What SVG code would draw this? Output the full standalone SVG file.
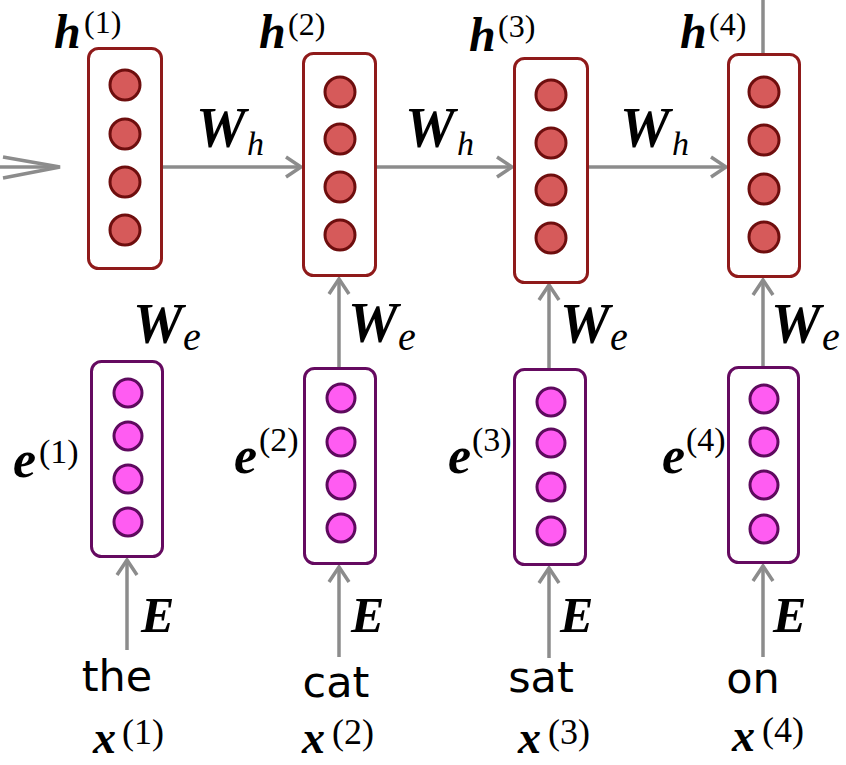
<svg xmlns="http://www.w3.org/2000/svg" width="846" height="765" viewBox="0 0 846 765">
<style>
.hbox{fill:#fff;stroke:#8f1a1a;stroke-width:3}
.hc{fill:#d65a5a;stroke:#6e0e0e;stroke-width:3}
.ebox{fill:#fff;stroke:#650a60;stroke-width:3}
.ec{fill:#ff5cf2;stroke:#5e0a5e;stroke-width:3}
.arr{fill:none;stroke:#8c8c8c;stroke-width:3.5}
.m{font-family:"Liberation Serif","Times New Roman",serif;font-weight:bold;font-style:italic;fill:#000}
.sup{font-family:"Liberation Serif","Times New Roman",serif;font-weight:normal;font-style:normal;fill:#000}
.sub{font-family:"Liberation Serif","Times New Roman",serif;font-weight:normal;font-style:italic;fill:#000}
.w{font-family:"DejaVu Sans","Noto Sans",sans-serif;font-size:43px;fill:#000;text-anchor:middle}
</style>
<defs>
<marker id="ah" markerUnits="userSpaceOnUse" viewBox="-18 -12 20 24" markerWidth="20" markerHeight="24" refX="0" refY="0" orient="auto" overflow="visible">
<path d="M-15,-10 L0,0 L-15,10" fill="none" stroke="#8c8c8c" stroke-width="3.5"/>
</marker>
</defs>
<g id="connectors">
<path class="arr" d="M0,167 H56"/>
<path class="arr" d="M3,157 L60,167 L3,178"/>
<path class="arr" d="M163,167 H301" marker-end="url(#ah)"/>
<path class="arr" d="M377,167 H512" marker-end="url(#ah)"/>
<path class="arr" d="M589,167 H726" marker-end="url(#ah)"/>
<path class="arr" d="M763,0 V53"/>
<path class="arr" d="M339,367 V279" marker-end="url(#ah)"/>
<path class="arr" d="M549,368 V285" marker-end="url(#ah)"/>
<path class="arr" d="M763,366 V280" marker-end="url(#ah)"/>
<path class="arr" d="M127,650 V560" marker-end="url(#ah)"/>
<path class="arr" d="M339,657 V567" marker-end="url(#ah)"/>
<path class="arr" d="M549,658 V568" marker-end="url(#ah)"/>
<path class="arr" d="M763,657 V566" marker-end="url(#ah)"/>
</g>
<g id="h1">
<rect class="hbox" x="88.5" y="48.5" width="73" height="220" rx="10"/>
<circle class="hc" cx="125" cy="85" r="15"/><circle class="hc" cx="125" cy="134" r="15"/><circle class="hc" cx="125" cy="182" r="15"/><circle class="hc" cx="125" cy="230" r="15"/>
</g>
<g id="h2">
<rect class="hbox" x="303.5" y="53.5" width="72" height="222" rx="10"/>
<circle class="hc" cx="340" cy="92" r="15"/><circle class="hc" cx="340" cy="139" r="15"/><circle class="hc" cx="340" cy="187" r="15"/><circle class="hc" cx="340" cy="235" r="15"/>
</g>
<g id="h3">
<rect class="hbox" x="514.5" y="58.5" width="73" height="224" rx="10"/>
<circle class="hc" cx="551" cy="95" r="15"/><circle class="hc" cx="551" cy="143" r="15"/><circle class="hc" cx="551" cy="190" r="15"/><circle class="hc" cx="551" cy="238" r="15"/>
</g>
<g id="h4">
<rect class="hbox" x="728.5" y="54.5" width="71" height="222" rx="10"/>
<circle class="hc" cx="764" cy="92" r="15"/><circle class="hc" cx="764" cy="140" r="15"/><circle class="hc" cx="764" cy="189" r="15"/><circle class="hc" cx="764" cy="237" r="15"/>
</g>
<g id="e1">
<rect class="ebox" x="91.5" y="361.5" width="71" height="195" rx="10"/>
<circle class="ec" cx="128" cy="393" r="14"/><circle class="ec" cx="128" cy="436" r="14"/><circle class="ec" cx="128" cy="479" r="14"/><circle class="ec" cx="128" cy="522" r="14"/>
</g>
<g id="e2">
<rect class="ebox" x="304.5" y="368.5" width="71" height="195" rx="10"/>
<circle class="ec" cx="341" cy="398" r="14"/><circle class="ec" cx="341" cy="442" r="14"/><circle class="ec" cx="341" cy="485" r="14"/><circle class="ec" cx="341" cy="528" r="14"/>
</g>
<g id="e3">
<rect class="ebox" x="514.5" y="369.5" width="71" height="195" rx="10"/>
<circle class="ec" cx="551" cy="402" r="14"/><circle class="ec" cx="551" cy="443" r="14"/><circle class="ec" cx="551" cy="487" r="14"/><circle class="ec" cx="551" cy="531" r="14"/>
</g>
<g id="e4">
<rect class="ebox" x="728.5" y="367.5" width="70" height="195" rx="10"/>
<circle class="ec" cx="764" cy="399" r="14"/><circle class="ec" cx="764" cy="442" r="14"/><circle class="ec" cx="764" cy="485" r="14"/><circle class="ec" cx="764" cy="529" r="14"/>
</g>
<g id="labels-h">
<text class="m" x="54" y="48" font-size="48">h<tspan class="sup" x="84" y="33" font-size="32">(1)</tspan></text>
<text class="m" x="259" y="48" font-size="48">h<tspan class="sup" x="288" y="35" font-size="32">(2)</tspan></text>
<text class="m" x="469" y="51" font-size="48">h<tspan class="sup" x="498" y="37" font-size="32">(3)</tspan></text>
<text class="m" x="680" y="48" font-size="48">h<tspan class="sup" x="709" y="35" font-size="32">(4)</tspan></text>
</g>
<g id="labels-wh">
<text class="m" x="196" y="147" font-size="56">W<tspan class="sub" x="247" y="155" font-size="34">h</tspan></text>
<text class="m" x="405" y="147" font-size="56">W<tspan class="sub" x="457" y="155" font-size="34">h</tspan></text>
<text class="m" x="620" y="147" font-size="56">W<tspan class="sub" x="672" y="155" font-size="34">h</tspan></text>
</g>
<g id="labels-we">
<text class="m" x="133" y="343" font-size="56">W<tspan class="sub" x="183" y="350" font-size="40">e</tspan></text>
<text class="m" x="348" y="342" font-size="56">W<tspan class="sub" x="398" y="350" font-size="40">e</tspan></text>
<text class="m" x="560" y="343" font-size="56">W<tspan class="sub" x="610" y="350" font-size="40">e</tspan></text>
<text class="m" x="771" y="343" font-size="56">W<tspan class="sub" x="822" y="350" font-size="40">e</tspan></text>
</g>
<g id="labels-e">
<text class="m" x="13" y="477" font-size="52">e<tspan class="sup" x="39" y="463" font-size="34">(1)</tspan></text>
<text class="m" x="234" y="473" font-size="52">e<tspan class="sup" x="259" y="451" font-size="34">(2)</tspan></text>
<text class="m" x="448" y="473" font-size="52">e<tspan class="sup" x="472" y="451" font-size="34">(3)</tspan></text>
<text class="m" x="662" y="473" font-size="52">e<tspan class="sup" x="686" y="451" font-size="34">(4)</tspan></text>
</g>
<g id="labels-E">
<text class="m" x="141" y="632" font-size="50">E</text>
<text class="m" x="351" y="632" font-size="50">E</text>
<text class="m" x="560" y="632" font-size="50">E</text>
<text class="m" x="773" y="632" font-size="50">E</text>
</g>
<g id="words">
<text class="w" x="117" y="691">the</text>
<text class="w" x="336" y="697">cat</text>
<text class="w" x="541" y="692">sat</text>
<text class="w" x="753" y="693">on</text>
</g>
<g id="labels-x">
<text class="m" x="93" y="753" font-size="46">x<tspan class="sup" x="122" y="744" font-size="36">(1)</tspan></text>
<text class="m" x="302" y="753" font-size="46">x<tspan class="sup" x="332" y="744" font-size="36">(2)</tspan></text>
<text class="m" x="518" y="753" font-size="46">x<tspan class="sup" x="548" y="744" font-size="36">(3)</tspan></text>
<text class="m" x="732" y="751" font-size="46">x<tspan class="sup" x="762" y="742" font-size="36">(4)</tspan></text>
</g>
</svg>
